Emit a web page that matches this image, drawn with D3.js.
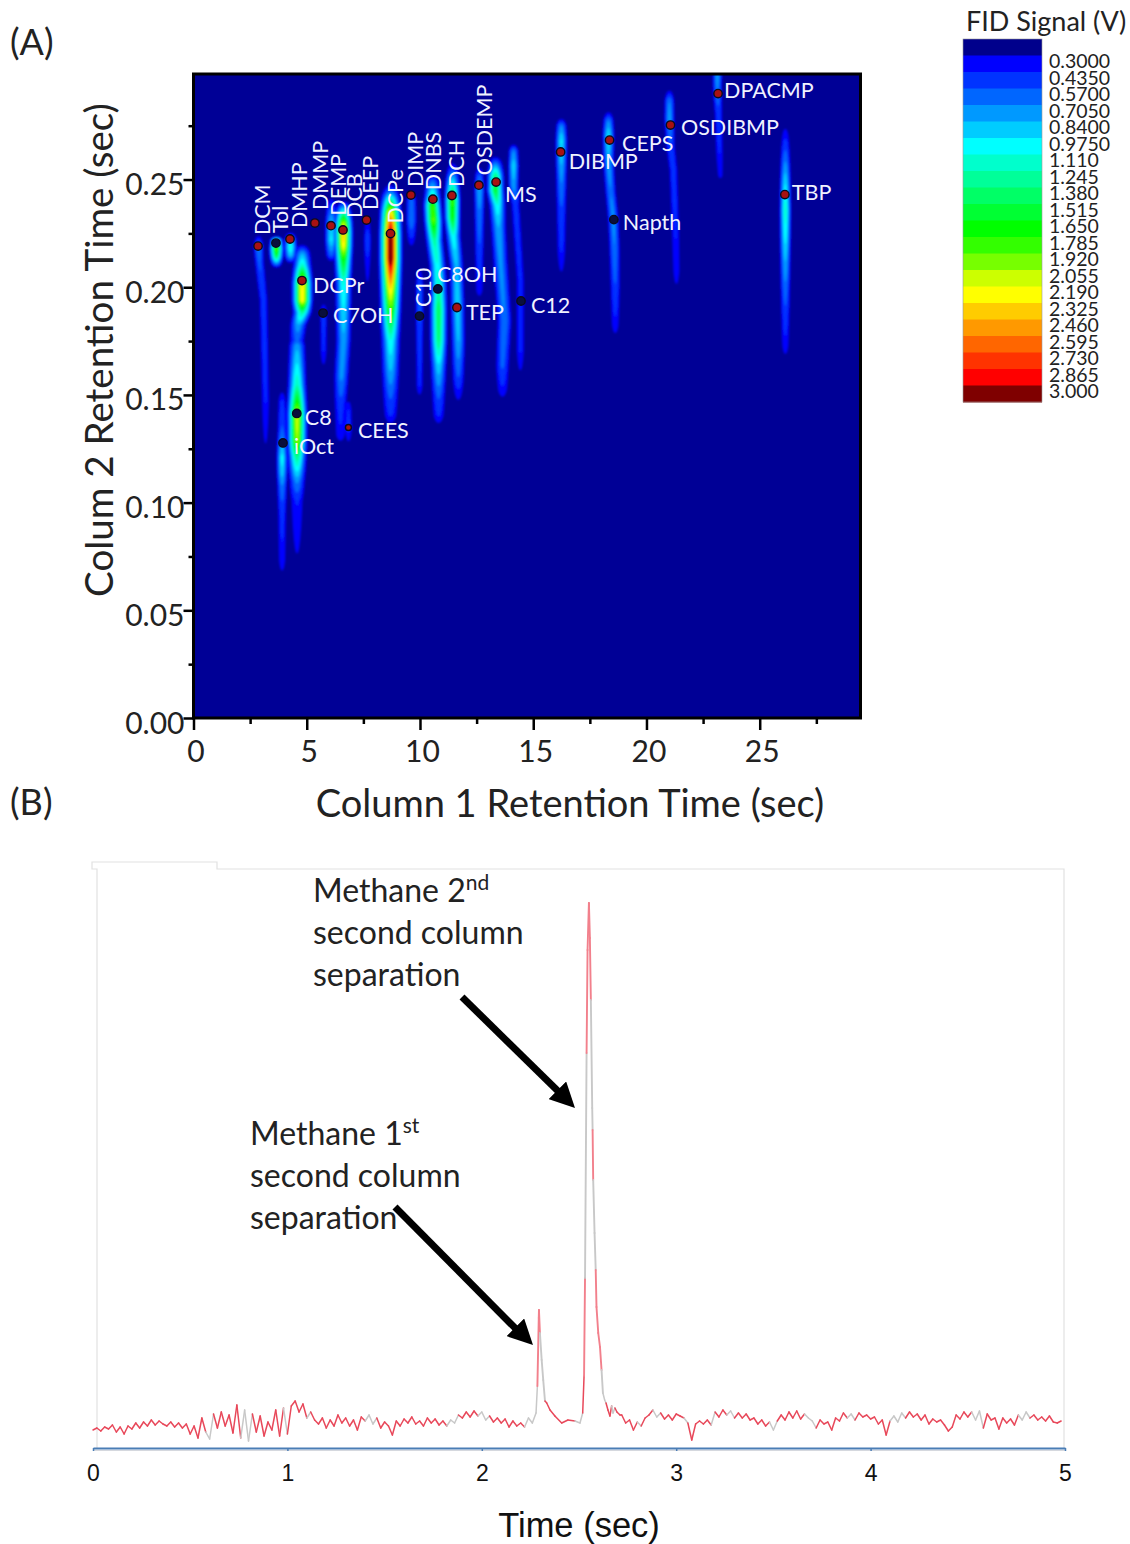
<!DOCTYPE html>
<html>
<head>
<meta charset="utf-8">
<style>
  body { margin: 0; background: #fff; }
  text { font-family: Lato, "Open Sans", sans-serif; }
</style>
<script src="https://cdn.jsdelivr.net/npm/d3@7"></script>
</head>
<body>
<script>
// FID colour bar
const fidLabels = ['0.3000','0.4350','0.5700','0.7050','0.8400','0.9750','1.110','1.245','1.380','1.515','1.650','1.785','1.920','2.055','2.190','2.325','2.460','2.595','2.730','2.865','3.000'];
const fidLevels = fidLabels.map(Number);
const fidColors = ['#00008c','#0000ff','#0033ff','#0066ff','#0099ff','#00ccff','#00ffff','#00ffcc','#00ff99','#00ff66','#00ff33','#00ff00','#33ff00','#77ff00','#ccff00','#ffff00','#ffcc00','#ff9900','#ff6600','#ff3300','#ff0000','#7f0000'];

// ridges of the GCxGC picture, rows are [rt1, rt2, signal] read along each streak
const ridgeDCM = [[2.85,.224,.3],[2.85,.219,.75],[2.89,.212,.6],[3.07,.194,.5],[3.16,.148,.45],[3.16,.114,.2]];
const ridgeTol = [[3.64,.224,.2],[3.64,.222,1.3],[3.64,.218,1.95],[3.64,.2145,1.5],[3.64,.209,.2]];
const ridgeDMHP = [[4.26,.226,.2],[4.26,.222,1.0],[4.26,.2187,1.15],[4.26,.215,.9],[4.26,.211,.2]];
const ridgeDCPrC8 = [[4.78,.2205,.2],[4.78,.216,.8],[4.78,.2103,1.2],[4.78,.2057,1.8],[4.78,.202,2.35],[4.78,.194,2.3],[4.78,.1885,1.3],[4.6,.1825,.8],[4.55,.1755,.6],[4.55,.173,.8],[4.55,.164,1.0],[4.55,.1546,1.25],[4.55,.1476,1.7],[4.55,.1416,2.15],[4.55,.129,2.05],[4.55,.122,1.4],[4.55,.115,1.0],[4.55,.1105,.75],[4.55,.101,.45],[4.55,.0766,.3],[4.55,.073,.2]];
const ridgeIOct = [[3.89,.1537,.2],[3.89,.1476,.45],[3.89,.1337,.6],[3.89,.121,1.05],[3.89,.115,.95],[3.89,.108,.7],[3.89,.0966,.5],[3.89,.0733,.4],[3.89,.064,.2]];
const ridgeC7OH = [[5.72,.194,.2],[5.72,.1885,.5],[5.72,.171,.45],[5.72,.16,.2]];
const ridgeDEMP = [[6.06,.2428,.2],[6.06,.238,.5],[6.06,.229,.95],[6.06,.222,1.0],[6.06,.215,.6],[6.06,.2117,.2]];
const ridgeDCB = [[6.6,.2405,.2],[6.6,.235,1.2],[6.6,.2303,2.05],[6.6,.2256,2.45],[6.6,.2196,2.3],[6.6,.2126,1.7],[6.6,.2033,1.15],[6.6,.1917,1.0],[6.6,.1755,.8],[6.51,.159,.75],[6.47,.1453,.5],[6.47,.1314,.4],[6.47,.1267,.2]];
const ridgeCEES = [[6.82,.15,.2],[6.82,.143,.45],[6.82,.1346,.5],[6.82,.1258,.2]];
const ridgeDEEP = [[7.66,.2358,.2],[7.66,.2289,.4],[7.66,.222,.55],[7.66,.208,.35],[7.66,.1917,.2]];
const ridgeDCPe = [[8.68,.2484,.2],[8.68,.2442,.7],[8.68,.2396,1.5],[8.68,.235,2.3],[8.68,.2289,2.85],[8.68,.2242,3.25],[8.68,.2136,3.25],[8.68,.2057,2.7],[8.68,.1987,2.3],[8.68,.1917,1.95],[8.68,.1848,1.55],[8.68,.1755,1.1],[8.68,.1616,.85],[8.68,.15,.6],[8.68,.1407,.45],[8.68,.1351,.2]];
const ridgeDIMP = [[9.6,.2451,.2],[9.6,.2405,.65],[9.6,.2312,.7],[9.6,.2233,.45],[9.6,.2173,.2]];
const ridgeC10 = [[9.96,.2103,.2],[9.96,.201,.6],[9.96,.1871,.6],[9.96,.1732,.5],[9.96,.1546,.45],[9.96,.1476,.2]];
const ridgeDNBS = [[10.53,.253,.2],[10.53,.2498,.6],[10.53,.2428,1.2],[10.53,.2382,1.85],[10.57,.2312,1.95],[10.62,.2219,1.3],[10.75,.2103,1.1],[10.8,.201,1.2],[10.8,.1894,1.5],[10.8,.1755,1.4],[10.8,.1639,.95],[10.8,.15,.6],[10.8,.1407,.45],[10.8,.135,.2]];
const ridgeDCH = [[11.41,.259,.2],[11.41,.2544,.55],[11.41,.2474,1.2],[11.41,.2405,1.85],[11.41,.2326,1.7],[11.45,.2242,1.1],[11.59,.2103,.85],[11.63,.194,.95],[11.67,.1755,.85],[11.67,.157,.55],[11.67,.1444,.2]];
const ridgeOSDEMP = [[12.6,.2567,.2],[12.6,.252,.6],[12.6,.2451,.85],[12.6,.2358,.7],[12.6,.2173,.55],[12.6,.1987,.4],[12.6,.194,.2]];
const ridgeMS = [[13.31,.2614,.2],[13.31,.2567,.8],[13.31,.252,1.4],[13.31,.2451,1.6],[13.4,.2382,1.1],[13.44,.2289,.85],[13.53,.2126,.75],[13.71,.1848,.7],[13.62,.1639,.6],[13.62,.1523,.4],[13.62,.1467,.2]];
const ridgeNear14 = [[14.11,.267,.2],[14.11,.2637,.7],[14.11,.2567,.95],[14.11,.2474,.8],[14.2,.2382,.5],[14.41,.2033,.45],[14.41,.1708,.45],[14.41,.1555,.2]];
const ridgeDIBMP = [[16.22,.279,.2],[16.22,.2753,.7],[16.22,.2683,1.0],[16.22,.2628,.95],[16.22,.252,.75],[16.22,.2358,.55],[16.22,.2173,.45],[16.22,.201,.2]];
const ridgeCEPS = [[18.3,.2823,.2],[18.3,.2776,.7],[18.3,.2707,1.0],[18.3,.2591,.8],[18.39,.2451,.7],[18.52,.2312,.75],[18.57,.2173,.7],[18.6,.1987,.55],[18.6,.1825,.4],[18.6,.1755,.2]];
const ridgeOSDIBMP = [[20.99,.2925,.2],[20.99,.2869,.7],[20.99,.2786,.8],[21.04,.2661,.55],[21.17,.2544,.5],[21.26,.2266,.45],[21.3,.208,.4],[21.3,.1954,.2]];
const ridgeDPACMP = [[23.11,.299,.8],[23.11,.2915,.7],[23.16,.28,.5],[23.2,.2637,.45],[23.24,.252,.35],[23.24,.2488,.2]];
const ridgeTBP = [[26.11,.2767,.2],[26.11,.2707,.4],[26.11,.259,.7],[26.11,.2474,1.0],[26.11,.2358,1.2],[26.11,.2242,1.05],[26.11,.2126,.85],[26.11,.1987,.65],[26.11,.1848,.5],[26.11,.1732,.4],[26.11,.1653,.2]];
const ridgeList = [ridgeDCM,ridgeTol,ridgeDMHP,ridgeDCPrC8,ridgeIOct,ridgeC7OH,ridgeDEMP,ridgeDCB,ridgeCEES,ridgeDEEP,ridgeDCPe,ridgeDIMP,ridgeC10,ridgeDNBS,ridgeDCH,ridgeOSDEMP,ridgeMS,ridgeNear14,ridgeDIBMP,ridgeCEPS,ridgeOSDIBMP,ridgeDPACMP,ridgeTBP];
const ridgeSigma = [.14,.16,.16,.22,.14,.12,.16,.2,.12,.12,.23,.15,.12,.2,.18,.14,.2,.14,.15,.15,.14,.13,.14];

// compounds marked on the picture
const compoundNames = ['DCM','Tol','DMHP','DMMP','DEMP','DCB','DEEP','DCPe','DIMP','DNBS','DCH','OSDEMP','MS','DCPr','C7OH','C10','C8OH','TEP','C12','C8','iOct','CEES','DIBMP','CEPS','Napth','OSDIBMP','DPACMP','TBP'];
const compoundRt1 = [2.85,3.64,4.26,5.36,6.07,6.6,7.64,8.7,9.6,10.57,11.41,12.6,13.36,4.79,5.72,9.98,10.79,11.63,14.46,4.56,3.95,6.84,16.21,18.37,18.56,21.06,23.16,26.11];
const compoundRt2 = [.2191,.2205,.2224,.2298,.2286,.2266,.2312,.2249,.2428,.2409,.2426,.2474,.2488,.2031,.188,.1866,.1992,.1906,.1936,.1414,.1277,.1349,.2628,.2683,.2314,.2753,.2899,.243];
const blackDots = ['Tol','C7OH','C10','C8OH','C12','C8','iOct','Napth'];

// label placement relative to the dot: dx, dy, rotated or not
const labelPlace = {
  DCM:[12,-11,1], Tol:[12,-10,1], DMHP:[17,-11,1], DMMP:[13,-13,1], DEMP:[15,-10,1], DCB:[19,-12,1], DEEP:[11.5,-10,1],
  DCPe:[12.5,-10,1], DIMP:[12,-8,1], DNBS:[8,-9,1], DCH:[12,-8.5,1], OSDEMP:[13,-10,1], C10:[11.5,-9,1],
  MS:[9,20,0], DCPr:[11,12.5,0], C7OH:[10,10,0], C8OH:[-1,-7,0], TEP:[9,12.5,0], C12:[10,12,0], C8:[8,11.5,0], iOct:[11,11,0],
  CEES:[9.5,10.5,0], DIBMP:[8,17,0], CEPS:[12.5,11,0], Napth:[9,10.5,0], OSDIBMP:[10.5,10,0], DPACMP:[6,4.5,0], TBP:[7,5.5,0]
};

// panel B trace, heights above the axis
const traceStep = 0.02;
const traceLeft = [18,20,17,21,19,23,16,21,14,22,19,25,20,26,22,28,23,27,24,22,26,21,25,20,24,14,22,10,30,16,9,34,20,36,22,33,15,43,10,38,7,34,16,32,12,26,18,38,12,40,14,42,47,36,44,30,36,28,24,30,20,28,22,33,25,30,22,28,18,31,27,33,24,30,20,26,22,13,27,22,29,25,31,24,27,22,30,25,29,23,27,22,28,25,33,30,36,31,37,32,36,28,32,26,30,25,29,21,27,22,25,21,30,25];
const peakTime = [2.279,2.286,2.293,2.294,2.299,2.308,2.316,2.325,2.334,2.351,2.376,2.411,2.443,2.479,2.505,2.519,2.526,2.531,2.539,2.544,2.551,2.556,2.561,2.568,2.570,2.573,2.58,2.586,2.59,2.599,2.608,2.616,2.623,2.632,2.639,2.649,2.659,2.668,2.675,2.685,2.695,2.711];
const peakSignal = [35,62,130,138,115,88,68,47,45,38,32,25,28,27,25,35,72,170,395,498,545,510,448,340,318,268,215,178,141,115,101,78,55,48,45,38,32,42,35,40,36,33];
const traceRightStart = 2.72;
const traceRight = [33,25,28,18,26,22,30,33,38,31,35,29,33,28,34,32,30,25,8,24,27,24,28,23,36,31,38,33,37,30,35,30,34,28,30,24,28,22,26,18,27,33,28,36,30,37,29,34,30,27,20,28,24,26,18,30,27,35,30,34,28,35,31,33,29,31,24,28,13,27,32,26,35,30,36,31,34,28,33,24,29,26,28,23,17,21,33,29,36,31,36,28,37,20,34,28,30,19,30,25,29,23,33,28,36,30,33,28,31,27,32,26,25,27];
// stretches of the trace that print grey instead of red
const greySpans = [[.585,.61],[.77,.82],[.98,1.0],[1.1,1.13],[1.41,1.46],[1.82,1.87],[1.99,2.04],[2.22,2.286],[2.299,2.325],[2.48,2.519],[2.531,2.539],[2.561,2.57],[2.573,2.586],[2.616,2.639],[2.67,2.685],[2.8,2.82],[2.89,2.91],[3.05,3.07],[3.18,3.2],[3.27,3.29],[3.49,3.52],[3.66,3.71],[3.88,3.92],[4.1,4.17],[4.52,4.58],[4.76,4.82]];

const svg = d3.select('body').append('svg').attr('width', 1130).attr('height', 1544);

// ---------- panel A
const plotA = { left: 193.5, top: 74, width: 667, height: 644 };
const xA = d3.scaleLinear().domain([0, 29.45]).range([0, plotA.width]);
const yA = d3.scaleLinear().domain([0, 0.299]).range([plotA.height, 0]);

const gA = svg.append('g').attr('transform', `translate(${plotA.left},${plotA.top})`);
const defs = svg.append('defs');
defs.append('clipPath').attr('id', 'plot-clip').append('rect').attr('width', plotA.width).attr('height', plotA.height);
defs.append('filter').attr('id', 'soft').attr('x', '-5%').attr('y', '-5%').attr('width', '110%').attr('height', '110%')
    .append('feGaussianBlur').attr('stdDeviation', 1.2);
defs.append('filter').attr('id', 'soft-line').attr('filterUnits', 'userSpaceOnUse')
    .attr('x', 80).attr('y', 880).attr('width', 1000).attr('height', 580)
    .append('feGaussianBlur').attr('stdDeviation', 0.55);

// field on a pixel grid, each ridge spreads sideways around its centre line
const field = new Float64Array(plotA.width * plotA.height).fill(0.1);
ridgeList.forEach((rows, k) => {
  const rt2s = rows.map(r => r[1]);
  const centre = d3.scaleLinear().domain(rt2s).range(rows.map(r => r[0]));
  const signal = d3.scaleLinear().domain(rt2s).range(rows.map(r => r[2]));
  const sigma = ridgeSigma[k];
  const j0 = Math.max(0, Math.floor(yA(d3.max(rt2s))));
  const j1 = Math.min(plotA.height - 1, Math.ceil(yA(d3.min(rt2s))));
  for (let j = j0; j <= j1; j++) {
    const t2 = yA.invert(j);
    if (t2 > d3.max(rt2s) || t2 < d3.min(rt2s)) continue;
    const c = centre(t2), s = signal(t2);
    const i0 = Math.max(0, Math.floor(xA(c - 4 * sigma)));
    const i1 = Math.min(plotA.width - 1, Math.ceil(xA(c + 4 * sigma)));
    for (let i = i0; i <= i1; i++) {
      const d = (xA.invert(i) - c) / sigma;
      const v = 0.1 + (s - 0.1) * Math.exp(-0.5 * d * d);
      const idx = j * plotA.width + i;
      if (v > field[idx]) field[idx] = v;
    }
  }
});

const contours = d3.contours().size([plotA.width, plotA.height]).thresholds(fidLevels)(field);
const heat = gA.append('g').attr('clip-path', 'url(#plot-clip)').append('g').attr('filter', 'url(#soft)');
heat.append('rect').attr('x', -10).attr('y', -10).attr('width', plotA.width + 20).attr('height', plotA.height + 20).attr('fill', '#000096');
heat.selectAll('path').data(contours).join('path')
    .attr('d', d3.geoPath())
    .attr('fill', (d, i) => fidColors[i + 1]);

// frame and axes
gA.append('rect').attr('width', plotA.width).attr('height', plotA.height)
  .attr('fill', 'none').attr('stroke', '#000').attr('stroke-width', 3);

const xAxisA = d3.axisBottom(xA).tickValues(d3.range(0, 28, 2.5)).tickSize(0).tickFormat(d => d % 5 === 0 ? d : '');
const gx = gA.append('g').attr('transform', `translate(0,${plotA.height})`).call(xAxisA);
gx.select('.domain').remove();
gx.selectAll('.tick line').attr('y2', d => d % 5 === 0 ? 12 : 6).attr('stroke-width', 2.5).attr('stroke', '#000');
gx.selectAll('.tick text').attr('y', 23).attr('dy', '0.71em').attr('dx', 2).attr('font-size', 30).attr('fill', '#222').style('font-family', 'Lato');

const yTickVals = d3.range(0, 12).map(i => i * 0.025);
const yAxisA = d3.axisLeft(yA).tickValues(yTickVals).tickSize(0).tickFormat((d, i) => i % 2 === 0 ? d3.format('.2f')(d) : '');
const gy = gA.append('g').call(yAxisA);
gy.select('.domain').remove();
gy.selectAll('.tick line').attr('x2', (d, i) => i % 2 === 0 ? -10 : -5).attr('stroke-width', 2.5).attr('stroke', '#000');
gy.selectAll('.tick text').attr('x', -9).attr('dy', '0.5em').attr('font-size', 30).attr('fill', '#222').style('font-family', 'Lato');

// dots and names
const compounds = compoundNames.map((n, i) => ({ name: n, t1: compoundRt1[i], t2: compoundRt2[i] }));
gA.selectAll('circle.dot').data(compounds).join('circle').attr('class', 'dot')
  .attr('cx', d => xA(d.t1)).attr('cy', d => yA(d.t2))
  .attr('r', d => d.name === 'CEES' ? 3 : 4.2)
  .attr('fill', d => blackDots.includes(d.name) ? '#0a0f3c' : '#a81212')
  .attr('stroke', '#0a0a20').attr('stroke-width', 1.4);

gA.selectAll('text.name').data(compounds).join('text').attr('class', 'name')
  .attr('transform', d => {
    const p = labelPlace[d.name];
    const px = xA(d.t1) + p[0], py = yA(d.t2) + p[1];
    return `translate(${px},${py})` + (p[2] ? ' rotate(-90)' : '');
  })
  .attr('font-size', 21.5).attr('fill', '#f0f2ff')
  .text(d => d.name);

svg.append('text').attr('x', 10).attr('y', 55).attr('font-size', 36).attr('fill', '#222').text('(A)');
svg.append('text').attr('x', 10).attr('y', 815).attr('font-size', 36).attr('fill', '#222').text('(B)');
svg.append('text').attr('x', 570).attr('y', 817).attr('text-anchor', 'middle').attr('font-size', 38).attr('fill', '#222').text('Column 1 Retention Time (sec)');
svg.append('text').attr('transform', 'translate(113,350) rotate(-90)').attr('text-anchor', 'middle').attr('font-size', 38.5).attr('fill', '#222').text('Colum 2 Retention Time (sec)');

// colour bar
const barY = d3.scaleBand().domain(d3.range(fidColors.length)).range([39, 402]);
svg.append('g').selectAll('rect').data(fidColors).join('rect')
  .attr('x', 963).attr('width', 79).attr('y', (d, i) => barY(i)).attr('height', barY.bandwidth() + 0.5).attr('fill', d => d);
svg.append('rect').attr('x', 963).attr('y', 39).attr('width', 79).attr('height', 363).attr('fill', 'none').attr('stroke', '#999').attr('stroke-width', 0.6);
const barLabelY = d3.scalePoint().domain(fidLabels).range([61, 391]);
svg.append('g').selectAll('text').data(fidLabels).join('text')
  .attr('x', 1049).attr('y', d => barLabelY(d)).attr('dy', '0.36em').attr('font-size', 19.5).attr('fill', '#222').text(d => d);
svg.append('text').attr('x', 966).attr('y', 31).attr('font-size', 27).attr('fill', '#222').text('FID Signal (V)');

// ---------- panel B
const xB = d3.scaleLinear().domain([0, 5]).range([93, 1065]);
const yB = d3.scaleLinear().domain([0, 545]).range([1448, 903]);

svg.append('path').attr('d', 'M97,1448V869H92V862H217V869H1064V1448').attr('fill', 'none').attr('stroke', '#e2e2e2').attr('stroke-width', 1.2);
svg.append('line').attr('x1', 93).attr('x2', 1065).attr('y1', 1450.5).attr('y2', 1450.5).attr('stroke', '#d5d8de').attr('stroke-width', 1);

const tracePoints = [
  ...traceLeft.map((v, i) => [i * traceStep, v]),
  ...peakTime.map((t, i) => [t, peakSignal[i]]),
  ...traceRight.map((v, i) => [traceRightStart + i * traceStep, v])
];
const traceSegments = d3.pairs(tracePoints);
const isGrey = s => {
  const mid = (s[0][0] + s[1][0]) / 2;
  return greySpans.some(g => mid >= g[0] && mid <= g[1]);
};
const traceLine = d3.line().x(d => xB(d[0])).y(d => yB(d[1]));
svg.append('g').attr('filter', 'url(#soft-line)').selectAll('path').data(traceSegments).join('path')
   .attr('d', d => traceLine(d))
   .attr('fill', 'none')
   .attr('stroke', d => isGrey(d) ? '#c8c8c8' : (d[0][1] > 60 ? '#f2808c' : '#e8485a'))
   .attr('stroke-width', d => d[0][1] > 60 ? 1.9 : 1.5)
   .attr('stroke-linecap', 'round');

const gxB = svg.append('g').attr('transform', 'translate(0,1448)')
  .call(d3.axisBottom(xB).tickValues([0, 1, 2, 3, 4, 5]).tickSize(3).tickSizeOuter(0).tickFormat(d3.format('d')));
gxB.select('.domain').attr('stroke', '#4a7db5').attr('stroke-width', 2);
gxB.selectAll('.tick line').attr('stroke', '#4a7db5').attr('stroke-width', 1.5);
gxB.selectAll('.tick text').attr('y', 17).attr('font-size', 23).attr('fill', '#111').style('font-family', '"Liberation Sans"');
svg.append('text').attr('x', 579).attr('y', 1537).attr('text-anchor', 'middle').attr('font-size', 34.5).attr('fill', '#111')
   .style('font-family', '"Liberation Sans"').text('Time (sec)');

// notes and arrows
function note(x, y, first, sup) {
  const t = svg.append('text').attr('x', x).attr('y', y).attr('font-size', 32).attr('fill', '#222');
  t.append('tspan').text(first);
  t.append('tspan').attr('dy', -12).attr('font-size', 21).text(sup);
  svg.append('text').attr('x', x).attr('y', y + 42).attr('font-size', 32).attr('fill', '#222').text('second column');
  svg.append('text').attr('x', x).attr('y', y + 84).attr('font-size', 32).attr('fill', '#222').text('separation');
}
note(313, 902, 'Methane 2', 'nd');
note(250, 1145, 'Methane 1', 'st');

defs.append('marker').attr('id', 'head').attr('viewBox', '0 0 10 10').attr('refX', 10).attr('refY', 5)
    .attr('markerWidth', 25).attr('markerHeight', 25).attr('markerUnits', 'userSpaceOnUse').attr('orient', 'auto')
    .append('path').attr('d', 'M0,0L10,5L0,10Z').attr('fill', '#000');
[[462, 997, 562, 1095], [395, 1207, 520, 1333]].forEach(a => {
  svg.append('line').attr('x1', a[0]).attr('y1', a[1]).attr('x2', a[2]).attr('y2', a[3])
     .attr('stroke', '#000').attr('stroke-width', 7);
});
[[550, 1083, 575, 1108], [508, 1320, 533, 1345]].forEach(a => {
  svg.append('line').attr('x1', a[0]).attr('y1', a[1]).attr('x2', a[2]).attr('y2', a[3])
     .attr('stroke', 'none').attr('marker-end', 'url(#head)');
});
</script>
</body>
</html>
